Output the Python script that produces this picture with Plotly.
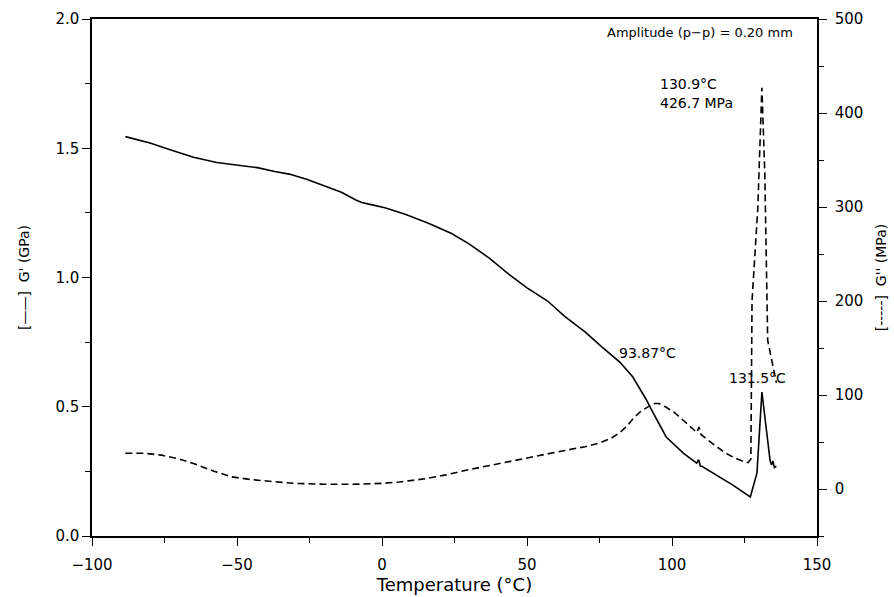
import plotly.graph_objects as go

# G' storage modulus (GPa), solid line, left axis
temp_g1 = [-88.5, -80, -72, -65, -57, -50, -43, -37, -32, -26, -20, -14, -9, -7, -3, 1,
           8, 16, 24, 30, 37, 44, 50, 57, 63, 70, 76, 82, 86.5, 91, 93.5, 98, 104,
           108.5, 109.2, 109.8, 110.3, 115.5, 121, 127, 128, 129.3, 131, 132.7,
           133.8, 134.3, 134.8, 135.3, 136]
g_storage = [1.545, 1.52, 1.49, 1.465, 1.445, 1.435, 1.425, 1.41, 1.40, 1.38, 1.355,
             1.33, 1.30, 1.29, 1.28, 1.27, 1.245, 1.21, 1.17, 1.13, 1.075, 1.01, 0.96,
             0.91, 0.85, 0.79, 0.73, 0.673, 0.615, 0.53, 0.476, 0.383, 0.32,
             0.282, 0.295, 0.27, 0.27, 0.236, 0.197, 0.151, 0.19, 0.244, 0.557, 0.40,
             0.294, 0.275, 0.29, 0.265, 0.27]

# G'' loss modulus (MPa), dashed line, right axis
temp_g2 = [-88.5, -82, -76, -70, -64, -58, -52, -45, -38, -30, -20, -10, 0, 6, 15, 22,
           29, 40, 52, 63, 70, 75, 79, 82, 84.5, 86.6, 89, 91.4, 93.5, 95.5, 98, 101,
           103.8, 106, 108.6, 109.3, 110, 112, 115.5, 118, 121, 124, 126.2, 127.2,
           127.6, 129.6, 131, 132, 133, 136]
g_loss = [38, 38, 36, 32, 26, 19, 13, 10, 8, 6, 5, 5, 6, 7.4, 11, 15, 20, 27, 34, 41,
          45, 49, 54, 60, 67, 75, 82, 87, 91, 91, 87, 81, 73, 67, 60, 66, 58, 53, 45,
          39, 34, 30, 28, 32, 200, 300, 426.7, 336, 158, 113]

font = dict(family='DejaVu Sans', size=15, color='black')

fig = go.Figure()
fig.add_trace(go.Scatter(x=temp_g1, y=g_storage, mode='lines',
                         line=dict(color='black', width=1.6), yaxis='y'))
fig.add_trace(go.Scatter(x=temp_g2, y=g_loss, mode='lines',
                         line=dict(color='black', width=1.6, dash='7px,4px'), yaxis='y2'))

fig.update_layout(
    width=894, height=597,
    margin=dict(l=92, r=77, t=19, b=61),
    plot_bgcolor='white', paper_bgcolor='white',
    showlegend=False,
    font=font,
    xaxis=dict(
        range=[-100, 150], tickvals=[-100, -50, 0, 50, 100, 150],
        ticks='outside', ticklen=8, tickwidth=1.2, tickcolor='black',
        minor=dict(dtick=25, ticks='outside', ticklen=5, tickcolor='black'),
        showline=True, linecolor='black', linewidth=1.5, mirror=True,
        showgrid=False, zeroline=False, automargin=False, ticklabelstandoff=6,
        title=dict(text='Temperature (°C)', standoff=6),
    ),
    yaxis=dict(
        range=[0, 2], tickvals=[0, 0.5, 1.0, 1.5, 2.0], tickformat='.1f',
        ticks='outside', ticklen=8, tickwidth=1.2, tickcolor='black',
        minor=dict(dtick=0.25, ticks='outside', ticklen=5, tickcolor='black'),
        showline=True, linecolor='black', linewidth=1.5,
        showgrid=False, zeroline=False, automargin=False,
        title=dict(text="[——]  G' (GPa)", standoff=22, font=dict(size=14)),
    ),
    yaxis2=dict(
        range=[-50, 500], tickvals=[0, 100, 200, 300, 400, 500],
        overlaying='y', side='right',
        ticks='outside', ticklen=8, tickwidth=1.2, tickcolor='black',
        minor=dict(dtick=50, ticks='outside', ticklen=5, tickcolor='black'),
        showline=True, linecolor='black', linewidth=1.5,
        showgrid=False, zeroline=False, automargin=False, ticklabelstandoff=5,
        title=dict(text="[-----]  G'' (MPa)", standoff=14, font=dict(size=14)),
    ),
)

notes = [
    (142.5, 1.946, 'Amplitude (p−p) = 0.20 mm', 'right', 13),
    (95.2, 1.75, '130.9°C', 'left', 14),
    (95.2, 1.675, '426.7 MPa', 'left', 14),
    (81, 0.708, '93.87°C', 'left', 14),
    (119, 0.611, '131.5°C', 'left', 14),
]
for x, y, txt, anchor, size in notes:
    fig.add_annotation(x=x, y=y, xref='x', yref='y', text=txt, showarrow=False,
                       xanchor=anchor, yanchor='middle', font=dict(size=size))

# drop the page's default body margin so the figure fills the window exactly
fig.write_html('out.html', config={'displayModeBar': False},
               post_script="document.body.style.margin='0';document.body.style.overflow='hidden';")
